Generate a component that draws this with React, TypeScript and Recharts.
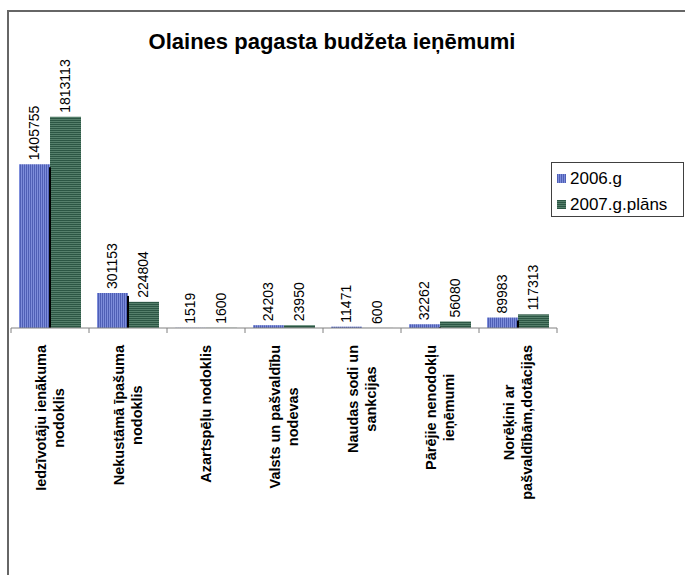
import React from 'react'
import { BarChart, Bar, XAxis, YAxis, LabelList } from 'recharts'

const categories = [
  'Iedzīvotāju ienākuma\nnodoklis',
  'Nekustāmā īpašuma\nnodoklis',
  'Azartspēļu nodoklis',
  'Valsts un pašvaldību\nnodevas',
  'Naudas sodi un\nsankcijas',
  'Pārējie nenodokļu\nieņēmumi',
  'Norēķini ar\npašvaldībām,dotācijas',
]
const values2006 = [1405755, 301153, 1519, 24203, 11471, 32262, 89983]
const values2007 = [1813113, 224804, 1600, 23950, 600, 56080, 117313]
const seriesNames = ['2006.g', '2007.g.plāns']

const data = categories.map((name, i) => ({ name, y2006: values2006[i], y2007: values2007[i] }))

const FONT = '"Liberation Sans", Arial, sans-serif'

let ctx: CanvasRenderingContext2D | null = null
function textWidth(s: string, font: string) {
  if (!ctx) ctx = document.createElement('canvas').getContext('2d')
  if (!ctx) return s.length * 8
  ctx.font = font
  return ctx.measureText(s).width
}

// category label: rotated, lines centered, block hanging below the axis
function CategoryTick(props: any) {
  const { x, y, payload, index } = props
  const lines = String(payload.value).split('\n')
  const font = 'bold 14.5px "Liberation Sans"'
  const maxW = Math.max(...lines.map((l) => textWidth(l, font)))
  const cy = y + 17 + maxW / 2
  const band = 78
  return (
    <g>
      <line x1={x - band / 2} x2={x - band / 2} y1={y} y2={y + 5} stroke="#808080" />
      {index === categories.length - 1 && (
        <line x1={x + band / 2} x2={x + band / 2} y1={y} y2={y + 5} stroke="#808080" />
      )}
      {lines.map((l, i) => {
        const lx = x + (i - (lines.length - 1) / 2) * 18.5 + 5
        return (
          <text
            key={i}
            x={lx}
            y={cy}
            transform={`rotate(-90 ${lx} ${cy})`}
            textAnchor="middle"
            fontFamily={FONT}
            fontWeight="bold"
            fontSize={14.5}
            fill="#000"
          >
            {l}
          </text>
        )
      })}
    </g>
  )
}

function ValueLabel(props: any) {
  const { x, y, width, value } = props
  const lx = x + width / 2 + 5
  const ly = y - 4
  return (
    <text
      x={lx}
      y={ly}
      transform={`rotate(-90 ${lx} ${ly})`}
      textAnchor="start"
      fontFamily={FONT}
      fontSize={14}
      fill="#000"
    >
      {value}
    </text>
  )
}

// green bar also carries the dark shadow cast by the blue bar next to it
function GreenBar(props: any) {
  const { x, y, width, height, payload } = props
  const v = payload.y2007
  const unit = v > 0 ? height / v : 0
  const blueH = payload.y2006 * unit
  const base = y + height
  return (
    <g>
      <rect x={x} y={y} width={width} height={height} fill="url(#greenStripes)" />
      {blueH > 3 && <rect x={x - 1} y={base - blueH + 3} width={2} height={blueH - 3} fill="#000" />}
    </g>
  )
}

function LegendBox() {
  const sw = [
    'repeating-linear-gradient(90deg, #4f5fb5 0px, #4f5fb5 1px, #7d8ddb 1px, #7d8ddb 2px)',
    'repeating-linear-gradient(0deg, #2c5644 0px, #2c5644 1px, #557f6b 1px, #557f6b 2px)',
  ]
  return (
    <div
      style={{
        position: 'absolute',
        left: 551,
        top: 162,
        width: 133,
        height: 55,
        boxSizing: 'border-box',
        border: '1px solid #404040',
        background: '#fff',
        fontFamily: FONT,
        fontSize: 17,
        paddingTop: 2,
      }}
    >
      {seriesNames.map((n, i) => (
        <div key={n} style={{ display: 'flex', alignItems: 'center', height: 26, paddingLeft: 5 }}>
          <div style={{ width: 9, height: 9, background: sw[i], marginRight: 4 }} />
          <span style={{ color: '#000', lineHeight: '17px' }}>{n}</span>
        </div>
      ))}
    </div>
  )
}

export default function App() {
  return (
    <div style={{ position: 'absolute', left: 0, top: 0, width: 685, height: 575, overflow: 'hidden', background: '#fff' }}>
      <div
        style={{
          position: 'absolute',
          left: 7,
          top: 10,
          width: 700,
          height: 600,
          border: '2px solid #666',
        }}
      />
      <svg style={{ position: 'absolute', left: 0, top: 0 }} width={685} height={80}>
        <text x={332} y={49} textAnchor="middle" fontFamily={FONT} fontWeight="bold" fontSize={22} fill="#000">
          Olaines pagasta budžeta ieņēmumi
        </text>
      </svg>
      <div style={{ position: 'absolute', left: 0, top: 0 }}>
        <BarChart
          width={685}
          height={575}
          data={data}
          margin={{ top: 95, right: 128, left: 11, bottom: 0 }}
          barSize={31}
          barGap={0}
        >
          <defs>
            <pattern id="blueStripes" width={2} height={4} patternUnits="userSpaceOnUse">
              <rect width={2} height={4} fill="#7d8ddb" />
              <rect width={1} height={4} fill="#4f5fb5" />
            </pattern>
            <pattern id="greenStripes" width={4} height={2} patternUnits="userSpaceOnUse">
              <rect width={4} height={2} fill="#557f6b" />
              <rect width={4} height={1} fill="#2c5644" />
            </pattern>
          </defs>
          <XAxis
            dataKey="name"
            height={247}
            interval={0}
            axisLine={{ stroke: '#808080' }}
            tickLine={false}
            tickSize={0}
            tickMargin={0}
            tick={<CategoryTick />}
          />
          <YAxis hide domain={[0, 2000000]} />
          <Bar dataKey="y2006" name={seriesNames[0]} fill="url(#blueStripes)" isAnimationActive={false}>
            <LabelList dataKey="y2006" content={<ValueLabel />} />
          </Bar>
          <Bar dataKey="y2007" name={seriesNames[1]} fill="url(#greenStripes)" shape={<GreenBar />} isAnimationActive={false}>
            <LabelList dataKey="y2007" content={<ValueLabel />} />
          </Bar>
        </BarChart>
      </div>
      <LegendBox />
    </div>
  )
}
